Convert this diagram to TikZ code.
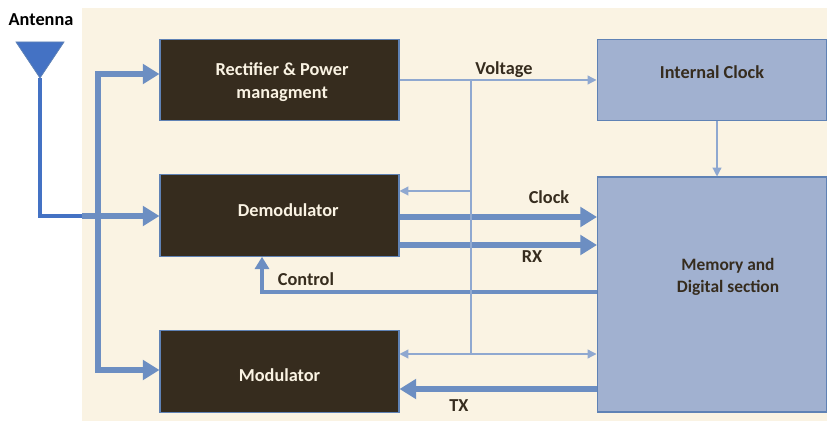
\documentclass[tikz,border=0pt]{standalone}
\usepackage{fontspec}
\setmainfont{Carlito}
\usetikzlibrary{arrows.meta}
\definecolor{paper}{HTML}{FAF3E3}
\definecolor{darkbox}{HTML}{362C1E}
\definecolor{bluebox}{HTML}{A1B1D0}
\definecolor{edgeblue}{HTML}{5F82B5}
\definecolor{linkblue}{HTML}{6C8EC2}
\definecolor{thinblue}{HTML}{8FA8D0}
\definecolor{antblue}{HTML}{4472C4}
\tikzset{
	darkblock/.style={draw=edgeblue, line width=0.6pt, fill=darkbox, text=paper, font=\fontsize{10.4}{12.8}\selectfont\bfseries, align=center, minimum width=4.78cm, minimum height=1.63cm, inner sep=0pt},
	blueblock/.style={draw=edgeblue, line width=0.6pt, fill=bluebox, text=darkbox, font=\fontsize{10.4}{12.8}\selectfont\bfseries, align=center, inner sep=0pt},
	tag/.style={text=darkbox, font=\fontsize{10.4}{12.5}\selectfont\bfseries, inner sep=0pt},
	bus/.style={linkblue, line width=3.8pt, -{Triangle[width=11pt, length=9.5pt]}},
	fork/.style={linkblue, line width=3pt, {Triangle[width=11pt, length=9.5pt]}-{Triangle[width=11pt, length=9.5pt]}},
	wire/.style={thinblue, line width=0.7pt, -{Triangle[width=5pt, length=5pt]}}
}
\begin{document}
\begin{tikzpicture}[x=0.02cm, y=-0.02cm]
	\useasboundingbox (0, 0) rectangle (827, 421);
	\fill[paper] (82, 8) rectangle (827, 421);
	% blocks
	\node[darkblock] (rectifier) at (279.5, 80) {\rule{0pt}{10pt}\hspace*{3pt}Rectifier \& Power\\\hspace*{3pt}managment};
	\node[darkblock] (demod) at (279.5, 215.5) {\raisebox{6.5pt}{\hspace*{10pt}Demodulator}};
	\node[darkblock] (mod) at (279.5, 371.5) {\rule{0pt}{12pt}Modulator};
	\node[blueblock, minimum width=4.6cm, minimum height=1.63cm] (clk) at (712, 80) {\raisebox{8.5pt}{Internal Clock}};
	\node[blueblock, minimum width=4.6cm, minimum height=4.7cm] (mem) at (712, 294.5) {};
	\node[tag, align=center, font=\fontsize{9.9}{12.5}\selectfont\bfseries] (memtext) at (728, 277) {Memory and\\Digital section};
	% antenna
	\node[tag, text=black] (anttext) at (41, 20) {Antenna};
	\coordinate (anttip) at (40, 78);
	\coordinate (antbend) at (40, 216);
	\coordinate (antedge) at (82, 216);
	\coordinate (forktop) at (98, 74);
	\coordinate (forkbot) at (98, 370);
	\draw[fork] (rectifier.west |- forktop) -- (forktop) -- (forkbot) -- (mod.west |- forkbot);
	\draw[bus] (antedge) -- (demod.west |- antedge);
	\draw[antblue, line width=2.8pt] (anttip) -- (antbend) -- (antedge);
	\fill[antblue, draw=edgeblue, line width=0.4pt] (16, 42) -- (64, 42) -- (anttip) -- cycle;
	% thick links
	\coordinate (clkin) at (597, 217);
	\coordinate (rxin) at (597, 245);
	\coordinate (ctlout) at (597, 292);
	\coordinate (ctlbend) at (262, 292);
	\coordinate (txout) at (597, 389);
	\coordinate (clkdown) at (717, 121);
	\draw[bus] (demod.east |- clkin) -- (clkin);
	\draw[bus] (demod.east |- rxin) -- (rxin);
	\draw[bus, line width=2.8pt, -{Triangle[width=8pt, length=7pt]}] (ctlout) -- (ctlbend) -- (ctlbend |- demod.south);
	\draw[bus] (txout) -- (mod.east |- txout);
	% thin links
	\coordinate (volt) at (471, 80);
	\coordinate (demodtap) at (471, 191);
	\coordinate (modtap) at (471, 354);
	\draw[wire] (rectifier.east) -- (clk.west);
	\draw[wire, -] (volt) -- (modtap);
	\draw[wire] (demodtap) -- (demod.east |- demodtap);
	\draw[wire, {Triangle[width=5pt, length=5pt]}-{Triangle[width=5pt, length=5pt]}] (mod.east |- modtap) -- (mem.west |- modtap);
	\draw[wire] (clkdown) -- (clkdown |- mem.north);
	% labels
	\node[tag] (volttext) at (504, 70) {Voltage};
	\node[tag] (clocktext) at (549, 197) {Clock};
	\node[tag] (rxtext) at (532, 257) {RX};
	\node[tag] (ctltext) at (306, 279) {Control};
	\node[tag] (txtext) at (459, 406) {TX};
\end{tikzpicture}
\end{document}
